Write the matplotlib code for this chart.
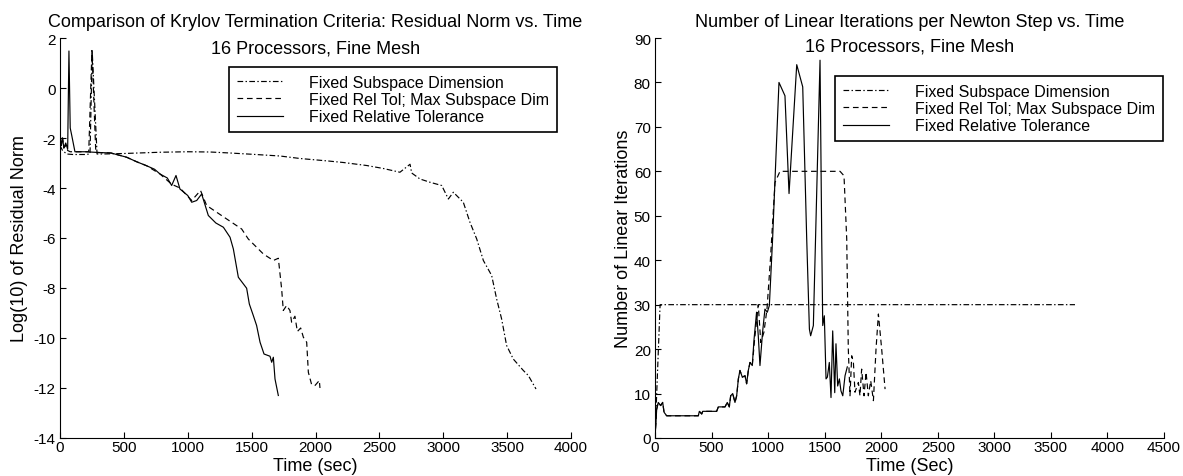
import matplotlib
matplotlib.use("Agg")
import matplotlib.pyplot as plt

plt.rcParams['font.family'] = ['Liberation Sans', 'DejaVu Sans']
plt.rcParams['axes.unicode_minus'] = False

# ---------------- data: left panel (log10 residual norm vs time) ----------------
labels = ["Fixed Subspace Dimension", "Fixed Rel Tol; Max Subspace Dim", "Fixed Relative Tolerance"]

fsd_t = [0, 20, 52, 100, 200, 235, 252, 290, 339, 500, 783, 1000, 1174, 1331, 1500, 1722, 1879, 2100,
         2218, 2400, 2531, 2661, 2740, 2753, 2818, 2896, 2988, 3040, 3079, 3157, 3209, 3262, 3314, 3379,
         3418, 3457, 3496, 3548, 3627, 3666, 3726]
fsd_r = [-2.3, -2.5, -2.64, -2.66, -2.66, -2.64, 1.48, -2.64, -2.64, -2.62, -2.57, -2.55, -2.56, -2.6,
         -2.65, -2.72, -2.82, -2.92, -2.98, -3.1, -3.22, -3.37, -3.05, -3.4, -3.64, -3.77, -3.9, -4.44,
         -4.17, -4.57, -5.37, -6.04, -6.9, -7.5, -8.44, -9.24, -10.3, -10.84, -11.3, -11.5, -12.04]

rtm_t = [0, 10, 20, 30, 45, 60, 80, 100, 150, 225, 250, 280, 300, 400, 522, 600, 678, 783, 874, 939,
         1031, 1100, 1148, 1305, 1422, 1474, 1592, 1670, 1709, 1735, 1748, 1774, 1800, 1813, 1839, 1858,
         1884, 1905, 1931, 1944, 1970, 1996, 2030, 2035]
rtm_r = [-1.8, -2.3, -2.0, -2.4, -2.3, -2.5, -2.55, -2.55, -2.55, -2.55, 1.5, -2.55, -2.58, -2.6, -2.77,
         -2.95, -3.11, -3.44, -3.85, -4.0, -4.5, -4.1, -4.7, -5.24, -5.64, -6.04, -6.64, -6.9, -6.81,
         -8.04, -8.9, -8.7, -8.9, -9.37, -9.13, -9.74, -9.6, -9.97, -10.17, -11.37, -11.87, -11.9, -11.7,
         -12.0]

frt_t = [0, 10, 20, 30, 45, 60, 70, 80, 92, 117, 200, 300, 400, 522, 600, 678, 740, 783, 840, 874, 908,
         939, 1000, 1031, 1070, 1109, 1161, 1220, 1279, 1331, 1357, 1396, 1461, 1482, 1513, 1539, 1566,
         1597, 1644, 1657, 1670, 1683, 1709]
frt_r = [-1.8, -2.3, -2.0, -2.4, -2.2, -2.45, 1.48, -1.6, -1.9, -2.55, -2.55, -2.58, -2.6, -2.77, -2.95,
         -3.11, -3.25, -3.44, -3.6, -3.9, -3.5, -4.04, -4.3, -4.57, -4.5, -4.24, -5.1, -5.4, -5.57, -5.97,
         -6.44, -7.57, -8.01, -8.64, -9.1, -9.5, -10.17, -10.64, -10.73, -10.97, -10.77, -11.64, -12.3]

# ---------------- data: right panel (linear iterations vs time) ----------------
fsd_it_t = [0, 45, 3713]
fsd_it = [0, 30, 30]

rtm_it_t = [0, 15, 29, 50, 68, 80, 103, 383, 392, 413, 422, 545, 560, 619, 639, 657, 669, 687, 707, 722,
            737, 751, 772, 796, 810, 825, 840, 860, 880, 913, 935, 963, 990, 1020, 1061, 1105, 1636, 1671,
            1695, 1709, 1724, 1739, 1754, 1768, 1798, 1812, 1827, 1848, 1866, 1886, 1907, 1931, 1954,
            1975, 2004, 2034]
rtm_it = [0, 6.5, 8, 7.3, 8, 5.8, 5, 5, 6, 5.4, 6, 6, 7, 7, 8, 7, 9.5, 10, 8, 9.5, 13.3, 15.2, 13.7, 14,
          12.2, 15.2, 17, 16.3, 22, 30, 21.5, 23.8, 29, 40, 57.5, 60, 60, 59, 44.8, 20, 9.5, 18.5, 17,
          10.3, 12.5, 9.5, 15.5, 9.5, 14.8, 9.5, 12.9, 8.4, 20, 27.9, 20, 11]

frt_it_t = [0, 15, 29, 50, 68, 80, 103, 383, 392, 413, 422, 545, 560, 619, 639, 657, 669, 687, 707, 722,
            737, 751, 772, 796, 810, 825, 840, 860, 875, 898, 913, 928, 951, 972, 993, 1011, 1040, 1096,
            1149, 1185, 1253, 1306, 1341, 1365, 1376, 1400, 1459, 1474, 1483, 1497, 1512, 1524, 1541,
            1556, 1571, 1589, 1600, 1615, 1630, 1644, 1660, 1680, 1700]
frt_it = [0, 6.5, 8, 7.3, 8, 5.8, 5, 5, 6, 5.4, 6, 6, 7, 7, 8, 7, 9.5, 10, 8, 9.5, 13.3, 15.2, 13.7, 14,
          12.2, 15.2, 17, 16.3, 22, 28.3, 23, 16.3, 23.8, 29, 28.3, 29.8, 45, 80, 77, 55, 84, 79, 45,
          24.5, 23, 25.3, 85, 44.8, 25.3, 27.5, 13.3, 13.7, 17, 9.1, 24.1, 10.2, 21.2, 11.7, 13.3, 10.6,
          9.5, 14, 16]

left_xticks = [0, 500, 1000, 1500, 2000, 2500, 3000, 3500, 4000]
left_yticks = [-14, -12, -10, -8, -6, -4, -2, 0, 2]
right_xticks = [0, 500, 1000, 1500, 2000, 2500, 3000, 3500, 4000, 4500]
right_yticks = [0, 10, 20, 30, 40, 50, 60, 70, 80, 90]

# ---------------- figure ----------------
W, H = 1183, 477
fig = plt.figure(figsize=(W / 100, H / 100), dpi=100)
FS_TICK = 11
FS_LEG = 11.5
FS_LAB = 13
LW = 0.85
dashdot = (0, (4.8, 2.0, 1.2, 2.0))
dashed = (0, (4.8, 3.2))


def axes_px(x0, x1, ytop, ybot):
    return fig.add_axes([x0 / W, 1 - ybot / H, (x1 - x0) / W, (ybot - ytop) / H])


def style(ax):
    for s in ('top', 'right'):
        ax.spines[s].set_visible(False)
    for s in ('left', 'bottom'):
        ax.spines[s].set_linewidth(0.8)
    ax.tick_params(direction='in', length=4, width=0.8, labelsize=FS_TICK, pad=3)
    ax.tick_params(axis='x', pad=1.5)


def legend(ax, anchor):
    leg = ax.legend(loc='upper right', bbox_to_anchor=anchor, fontsize=FS_LEG, frameon=True,
                    fancybox=False, borderaxespad=0, borderpad=0.5, labelspacing=0.13,
                    handlelength=2.9, handletextpad=1.6)
    fr = leg.get_frame()
    fr.set_edgecolor('black')
    fr.set_linewidth(1.2)
    fr.set_alpha(1)


axL = axes_px(60, 571, 39, 439)
axL.plot(fsd_t, fsd_r, color='black', lw=LW, linestyle=dashdot, label=labels[0])
axL.plot(rtm_t, rtm_r, color='black', lw=LW, linestyle=dashed, label=labels[1])
axL.plot(frt_t, frt_r, color='black', lw=LW, linestyle='-', label=labels[2])
axL.set_xlim(0, 4000)
axL.set_ylim(-14, 2)
axL.set_xticks(left_xticks)
axL.set_yticks(left_yticks)
style(axL)
legend(axL, ((557 - 60) / 511, 1 - (68 - 39) / 400))

axR = axes_px(655, 1164, 39, 439)
axR.plot(fsd_it_t, fsd_it, color='black', lw=LW, linestyle=dashdot, label=labels[0])
axR.plot(rtm_it_t, rtm_it, color='black', lw=LW, linestyle=dashed, label=labels[1])
axR.plot(frt_it_t, frt_it, color='black', lw=LW, linestyle='-', label=labels[2])
axR.set_xlim(0, 4500)
axR.set_ylim(0, 90)
axR.set_xticks(right_xticks)
axR.set_yticks(right_yticks)
style(axR)
legend(axR, ((1163 - 655) / 509, 1 - (77 - 39) / 400))


def ftext(x, y, s, **kw):
    fig.text(x / W, 1 - y / H, s, fontsize=FS_LAB, **kw)


ftext(315.5, 27, "Comparison of Krylov Termination Criteria: Residual Norm vs. Time", ha='center', va='baseline')
ftext(315.5, 53, "16 Processors, Fine Mesh", ha='center', va='baseline')
ftext(909.5, 27, "Number of Linear Iterations per Newton Step vs. Time", ha='center', va='baseline')
ftext(909.5, 51, "16 Processors, Fine Mesh", ha='center', va='baseline')
ftext(315.5, 471, "Time (sec)", ha='center', va='baseline')
ftext(910, 471, "Time (Sec)", ha='center', va='baseline')
ftext(20, 239, "Log(10) of Residual Norm", ha='center', va='center', rotation=90)
ftext(624, 239, "Number of Linear Iterations", ha='center', va='center', rotation=90)

fig.savefig("out.png", dpi=100)
